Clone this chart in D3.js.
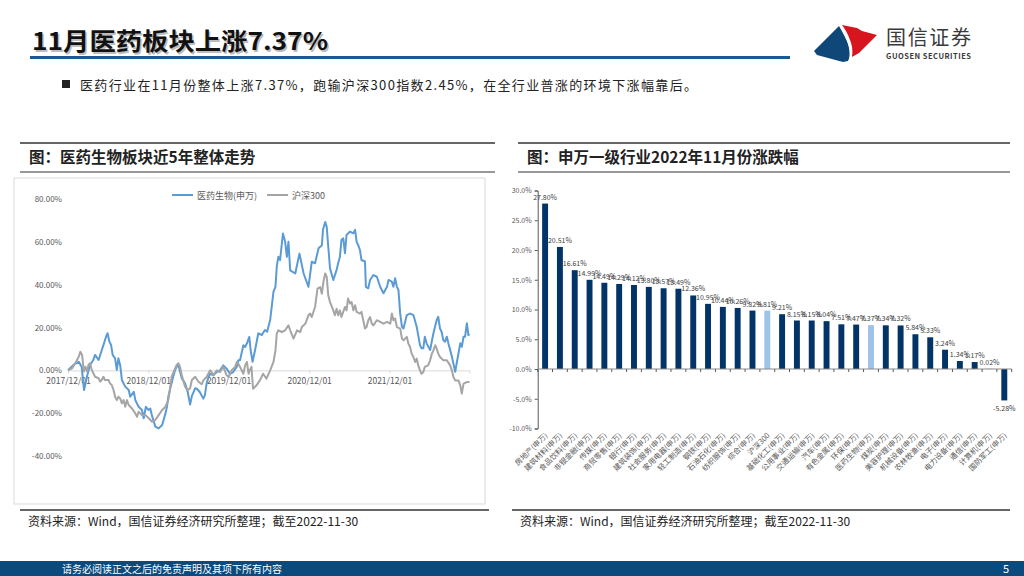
<!DOCTYPE html>
<html>
<head>
<meta charset="utf-8">
<script src="https://cdn.jsdelivr.net/npm/d3@7"></script>
<style>
  body { margin: 0; background: #fff; }
  svg { display: block; }
  text { font-family: "Noto Sans CJK SC", "Liberation Sans", sans-serif; }
</style>
</head>
<body>
<script>
// ---- data ----
var pageTitle = "11月医药板块上涨7.37%";
var bulletText = "医药行业在11月份整体上涨7.37%，跑输沪深300指数2.45%，在全行业普涨的环境下涨幅靠后。";
var leftTitle = "图：医药生物板块近5年整体走势";
var rightTitle = "图：申万一级行业2022年11月份涨跌幅";
var sourceText = "资料来源：Wind，国信证券经济研究所整理；截至2022-11-30";
var footerText = "请务必阅读正文之后的免责声明及其项下所有内容";

var lineNames = ["医药生物(申万)", "沪深300"];
var lineTicks = ["2017-12-01", "2018-12-01", "2019-12-01", "2020-12-01", "2021-12-01"];
var lineYTicks = [-40, -20, 0, 20, 40, 60, 80];

var medSeries = [
["2017-12-01",0],["2017-12-26",2.5],["2018-01-19",4.0],["2018-02-01",1.7],["2018-02-12",-9.2],["2018-02-27",-2.2],
["2018-03-11",2.5],["2018-03-26",4.8],["2018-04-03",7.2],["2018-04-19",4.8],["2018-05-01",8.7],["2018-05-11",11.8],
["2018-05-23",15.7],["2018-05-30",17.3],["2018-06-07",13.4],["2018-06-15",11.8],["2018-06-22",7.2],["2018-07-03",5.6],
["2018-07-11",0.2],["2018-07-18",5.6],["2018-07-26",2.5],["2018-08-03",-4.5],["2018-08-18",-7.6],["2018-09-03",-9.2],
["2018-09-10",-12.3],["2018-09-26",-10],["2018-10-03",-13.9],["2018-10-18",-17],["2018-11-02",-18.5],["2018-11-10",-22.4],
["2018-11-20",-17],["2018-12-01",-18.5],["2018-12-10",-17.8],["2018-12-17",-20.9],["2019-01-02",-26.3],["2019-01-17",-27.1],
["2019-02-02",-25.5],["2019-02-17",-20.1],["2019-02-24",-17],["2019-03-02",-12.3],["2019-03-09",-9.2],["2019-03-24",-3],
["2019-04-02",0.2],["2019-04-09",1.7],["2019-04-17",2.5],["2019-04-24",-0.6],["2019-05-02",-3.7],["2019-05-17",-6.1],
["2019-05-29",-10],["2019-06-09",-16],["2019-06-17",-12],["2019-07-02",-8.4],["2019-07-10",-8.6],["2019-07-23",-10.1],
["2019-08-08",-13.2],["2019-08-15",-11.7],["2019-08-23",-6.2],["2019-09-01",-3.1],["2019-09-08",-1.6],["2019-09-23",-2.3],
["2019-10-08",-0.8],["2019-10-23",0],["2019-11-07",2.3],["2019-11-22",0.8],["2019-12-07",-1.6],["2019-12-22",-0.8],
["2020-01-07",1.6],["2020-01-14",4.7],["2020-01-22",4.7],["2020-02-06",11.7],["2020-02-14",10.9],["2020-02-22",12.5],
["2020-03-04",15.6],["2020-03-10",9.5],["2020-03-19",4],["2020-04-01",10.3],["2020-04-14",17.3],["2020-04-30",16.5],
["2020-05-14",18.8],["2020-05-24",18],["2020-06-07",23.5],["2020-06-22",36.7],["2020-07-01",39],["2020-07-07",48.4],
["2020-07-14",53],["2020-07-22",51.5],["2020-08-04",63.9],["2020-08-14",60],["2020-08-22",53],["2020-08-29",60],
["2020-09-06",46.7],["2020-09-29",45.2],["2020-10-18",54.5],["2020-11-06",45.2],["2020-11-28",39],["2020-12-13",50.7],
["2020-12-28",50],["2021-01-13",57],["2021-01-28",58.4],["2021-02-02",65.6],["2021-02-12",69.3],["2021-02-19",67],
["2021-02-26",57.8],["2021-03-06",47.6],["2021-03-21",42.2],["2021-04-05",46.9],["2021-04-12",50],["2021-04-20",53],
["2021-04-27",60.9],["2021-05-05",61.7],["2021-05-13",54.7],["2021-05-20",63.2],["2021-06-05",64.8],["2021-06-20",64],
["2021-06-28",65.6],["2021-07-05",60],["2021-07-12",58.5],["2021-07-20",56.2],["2021-07-27",51.5],["2021-08-12",50.8],
["2021-08-16",39],["2021-08-27",38.3],["2021-09-04",42.2],["2021-09-19",44.5],["2021-10-05",43.7],["2021-10-20",39],
["2021-11-04",36],["2021-11-20",39],["2021-11-27",42.2],["2021-12-12",41.4],["2021-12-19",39],["2021-12-27",43],
["2022-01-04",39],["2022-01-11",37.5],["2022-01-19",26.5],["2022-01-27",20.3],["2022-02-03",19.5],["2022-02-18",25.8],
["2022-03-05",26.5],["2022-03-20",25.8],["2022-04-04",20.3],["2022-04-19",11.8],["2022-04-26",10.3],["2022-05-04",10.3],
["2022-05-11",15.7],["2022-05-19",12.6],["2022-06-04",9.5],["2022-06-19",17.3],["2022-07-04",23.5],["2022-07-11",25],
["2022-07-19",19.5],["2022-07-26",18],["2022-08-03",14.1],["2022-08-11",13.4],["2022-08-19",15.7],["2022-08-26",12.6],
["2022-09-11",6.4],["2022-09-26",-0.7],["2022-10-04",4],["2022-10-19",12.6],["2022-10-26",11],["2022-11-03",15.7],
["2022-11-10",15.7],["2022-11-18",22],["2022-11-25",16.5],["2022-11-30",17]
];

var hsSeries = [
["2017-12-01",0],["2017-12-19",0.9],["2018-01-03",3.3],["2018-01-19",6.4],["2018-01-26",8.7],["2018-02-03",7.2],
["2018-02-11",-0.6],["2018-02-18",1.7],["2018-02-26",-0.6],["2018-03-04",2.5],["2018-03-11",3.3],["2018-03-19",0.2],
["2018-04-03",-3],["2018-04-19",-3.7],["2018-04-26",-5.3],["2018-05-03",-4.5],["2018-05-11",-3],["2018-05-18",-4.5],
["2018-06-03",-4.5],["2018-06-10",-6.1],["2018-06-18",-6.9],["2018-06-26",-9.2],["2018-07-03",-12.3],["2018-07-11",-13.9],
["2018-07-18",-12.3],["2018-07-26",-13.1],["2018-08-03",-15.4],["2018-08-11",-13.9],["2018-08-18",-17],["2018-08-26",-13.9],
["2018-09-03",-16.2],["2018-09-18",-17.8],["2018-10-03",-20.1],["2018-10-11",-21.7],["2018-10-18",-19.3],["2018-11-02",-20.9],
["2018-11-18",-20.9],["2018-12-03",-22.4],["2018-12-18",-24],["2019-01-02",-23.2],["2019-01-17",-20.9],["2019-02-02",-18.5],
["2019-02-17",-17],["2019-03-02",-13.9],["2019-03-09",-9.2],["2019-03-17",-3],["2019-04-02",0.9],["2019-04-09",2.5],
["2019-04-17",3.3],["2019-04-24",1.7],["2019-05-02",-2.2],["2019-05-17",-7.6],["2019-05-29",-9.2],["2019-06-09",-8.4],
["2019-06-17",-4.5],["2019-07-02",-3],["2019-07-17",-5.3],["2019-08-01",-6.5],["2019-08-08",-4.7],["2019-08-23",-3.1],
["2019-09-08",0],["2019-09-15",-0.8],["2019-09-23",-2.3],["2019-10-08",0],["2019-10-23",-0.8],["2019-11-07",1.6],
["2019-11-22",-2.3],["2019-12-01",-3.1],["2019-12-15",0],["2019-12-31",1.6],["2020-01-07",3.9],["2020-01-14",3.1],
["2020-01-22",1.6],["2020-02-06",-1.6],["2020-02-14",2.3],["2020-02-22",3.9],["2020-03-01",-1.6],["2020-03-06",0],
["2020-03-14",1.6],["2020-03-21",-8.6],["2020-04-06",-7],["2020-04-21",-4.7],["2020-05-06",-1.6],["2020-05-21",-3.9],
["2020-06-07",0],["2020-06-22",3.9],["2020-07-01",9.3],["2020-07-07",17.1],["2020-07-14",18.7],["2020-07-29",17.9],
["2020-08-14",18.7],["2020-08-29",21],["2020-09-06",18.7],["2020-09-21",14.8],["2020-10-07",18.7],["2020-10-22",17.9],
["2020-10-29",20.2],["2020-11-14",21.8],["2020-11-28",25.7],["2020-12-06",26.5],["2020-12-13",24.9],["2020-12-28",29.6],
["2021-01-08",38.2],["2021-01-20",38.9],["2021-01-28",35.8],["2021-02-04",41.3],["2021-02-12",45.2],["2021-02-19",43.6],
["2021-02-26",35],["2021-03-06",31.9],["2021-03-21",28],["2021-03-28",25.7],["2021-04-05",28.8],["2021-04-12",25.7],
["2021-04-20",28],["2021-04-27",24.9],["2021-05-05",27.3],["2021-05-13",29.6],["2021-05-20",28],["2021-05-27",33.5],
["2021-06-05",31.2],["2021-06-12",31.9],["2021-06-20",28],["2021-06-28",30.4],["2021-07-05",27.3],["2021-07-20",26.5],
["2021-07-27",27.3],["2021-08-04",23.4],["2021-08-12",19.5],["2021-08-19",20.2],["2021-08-27",23.4],["2021-09-04",24.9],
["2021-09-12",21.8],["2021-09-19",21],["2021-10-05",23.4],["2021-10-20",22.6],["2021-11-04",21.8],["2021-11-20",22.6],
["2021-12-05",21.8],["2021-12-12",26.5],["2021-12-19",23.4],["2021-12-27",24.2],["2022-01-04",20.2],["2022-01-19",19.5],
["2022-01-27",14.8],["2022-02-03",14],["2022-02-18",15.6],["2022-02-25",12.5],["2022-03-05",10.9],["2022-03-12",7.8],
["2022-03-20",6.2],["2022-03-28",3.9],["2022-04-04",5.5],["2022-04-11",2.3],["2022-04-19",0],["2022-04-26",-1.6],
["2022-05-04",-0.8],["2022-05-11",1.6],["2022-05-26",2.3],["2022-06-04",4.7],["2022-06-12",7.8],["2022-06-19",9.3],
["2022-06-27",11.7],["2022-07-04",10.1],["2022-07-11",7.8],["2022-07-19",6.2],["2022-08-03",4.7],["2022-08-19",4.7],
["2022-09-03",2.3],["2022-09-11",0],["2022-09-18",-3.1],["2022-09-26",-4.7],["2022-10-11",-4.7],["2022-10-19",-7],
["2022-10-26",-10.9],["2022-11-03",-6.2],["2022-11-18",-5.5],["2022-11-25",-5.5],["2022-11-30",-5.5]
];

var industries = ["房地产(申万)","建筑材料(申万)","食品饮料(申万)","非银金融(申万)","传媒(申万)","商贸零售(申万)",
  "银行(申万)","建筑装饰(申万)","社会服务(申万)","家用电器(申万)","轻工制造(申万)","钢铁(申万)","石油石化(申万)",
  "纺织服饰(申万)","综合(申万)","沪深300","基础化工(申万)","公用事业(申万)","交通运输(申万)","汽车(申万)",
  "有色金属(申万)","环保(申万)","医药生物(申万)","煤炭(申万)","美容护理(申万)","机械设备(申万)","农林牧渔(申万)",
  "电子(申万)","电力设备(申万)","通信(申万)","计算机(申万)","国防军工(申万)"];
var changes = [27.80,20.51,16.61,14.99,14.49,14.29,14.12,13.80,13.57,13.49,12.36,10.95,10.44,10.26,9.82,9.81,
  9.21,8.15,8.15,8.04,7.51,7.47,7.37,7.34,7.32,5.84,5.33,3.24,1.34,1.17,0.02,-5.28];
var highlighted = ["沪深300","医药生物(申万)"];
var barYTicks = [-10,-5,0,5,10,15,20,25,30];

// ---- page ----
var svg = d3.select("body").append("svg").attr("width", 1024).attr("height", 576);

// title with shadow
svg.append("text").attr("x", 33.5).attr("y", 51.5).attr("font-size", 24).attr("font-weight", "bold")
  .attr("fill", "#bdbdbd").attr("textLength", 296).attr("lengthAdjust", "spacingAndGlyphs").text(pageTitle);
svg.append("text").attr("x", 32).attr("y", 50).attr("font-size", 24).attr("font-weight", "bold")
  .attr("fill", "#111").attr("textLength", 296).attr("lengthAdjust", "spacingAndGlyphs").text(pageTitle);
svg.append("rect").attr("x", 30).attr("y", 56).attr("width", 760).attr("height", 3).attr("fill", "#1b5a94");

// logo
var logo = svg.append("g");
logo.append("path").attr("d", "M814,51 L839,26 C843,33 847,40 849,47 C851,52 850,57 848,61 L843,62 L817,55 Z").attr("fill", "#0f4778");
logo.append("path").attr("d", "M842,25 L857,28 L862,31 L877,35 L859,53 L852,57 C853,50 852,45 850,40 C848,34 845,29 842,25 Z").attr("fill", "#d7151f");
logo.append("path").attr("d", "M840,25 C846,35 852,45 850,62").attr("fill", "none").attr("stroke", "#fff").attr("stroke-width", 1.5);
svg.append("text").attr("x", 886).attr("y", 45).attr("font-size", 20).attr("fill", "#3a3a3a")
  .attr("textLength", 85).text("国信证券");
svg.append("text").attr("x", 886).attr("y", 58.5).attr("font-size", 7.5).attr("font-weight", "bold").attr("fill", "#3a3a3a")
  .attr("font-family", "Liberation Sans").attr("textLength", 85).text("GUOSEN SECURITIES");

// bullet
svg.append("rect").attr("x", 62).attr("y", 80).attr("width", 8).attr("height", 8).attr("fill", "#222");
svg.append("text").attr("x", 80).attr("y", 89.5).attr("font-size", 13).attr("fill", "#222")
  .attr("textLength", 617).text(bulletText);

// section headers
function sectionHeader(x0, x1, title) {
  svg.append("line").attr("x1", x0).attr("x2", x1).attr("y1", 143).attr("y2", 143).attr("stroke", "#333").attr("stroke-width", 1.5);
  svg.append("line").attr("x1", x0).attr("x2", x1).attr("y1", 172).attr("y2", 172).attr("stroke", "#333").attr("stroke-width", 1.2);
  svg.append("text").attr("x", x0 + 9).attr("y", 163).attr("font-size", 15.5).attr("font-weight", "bold").attr("fill", "#222").text(title);
}
sectionHeader(20, 495, leftTitle);
sectionHeader(518, 1010, rightTitle);

// source lines
function sourceLine(x0, x1) {
  svg.append("line").attr("x1", x0).attr("x2", x1).attr("y1", 510).attr("y2", 510).attr("stroke", "#333").attr("stroke-width", 1.5);
  svg.append("text").attr("x", x0 + 8).attr("y", 526).attr("font-size", 12).attr("fill", "#222").text(sourceText);
}
sourceLine(20, 489);
sourceLine(512, 1010);

// footer
svg.append("rect").attr("x", 0).attr("y", 561).attr("width", 1024).attr("height", 15).attr("fill", "#0b4a7d");
svg.append("text").attr("x", 62).attr("y", 572.5).attr("font-size", 10).attr("fill", "#fff").text(footerText);
svg.append("text").attr("x", 1003).attr("y", 573).attr("font-size", 11).attr("fill", "#fff").text("5");

// ---- left line chart ----
svg.append("rect").attr("x", 14).attr("y", 178).attr("width", 471).attr("height", 326)
  .attr("fill", "#fff").attr("stroke", "#d9d9d9").attr("stroke-width", 1);

var parse = d3.timeParse("%Y-%m-%d");
var xT = d3.scaleTime().domain([parse("2017-12-01"), parse("2022-11-30")]).range([68, 469.5]);
var yL = d3.scaleLinear().domain([-40, 80]).range([456, 199]);

var lg = svg.append("g");
lg.selectAll("text.ytick").data(lineYTicks).enter().append("text")
  .attr("x", 62).attr("y", function(d) { return yL(d) + 3; })
  .attr("text-anchor", "end").attr("font-size", 8).attr("fill", "#595959")
  .attr("font-family", "Liberation Sans")
  .text(function(d) { return d.toFixed(2) + "%"; });

var xAxis = d3.axisBottom(xT).tickValues(lineTicks.map(parse)).tickSize(3)
  .tickFormat(d3.timeFormat("%Y/%m/%d"));
var xg = lg.append("g").attr("transform", "translate(0," + yL(0) + ")").call(xAxis);
xg.select(".domain").attr("stroke", "#d9d9d9");
xg.selectAll(".tick line").attr("stroke", "#d9d9d9");
xg.selectAll(".tick text").attr("fill", "#595959").attr("font-size", 8.5).attr("dy", "0.9em")
  .attr("font-family", "Liberation Sans");

var line = d3.line().x(function(d) { return xT(parse(d[0])); }).y(function(d) { return yL(d[1]); });
var lineColors = ["#5b9bd5", "#a5a5a5"];
[medSeries, hsSeries].forEach(function(s, i) {
  lg.append("path").datum(s).attr("d", line).attr("fill", "none")
    .attr("stroke", lineColors[i]).attr("stroke-width", 2).attr("stroke-linejoin", "round");
});

// legend
var legendX = [172, 267];
lineNames.forEach(function(n, i) {
  lg.append("line").attr("x1", legendX[i]).attr("x2", legendX[i] + 21).attr("y1", 195).attr("y2", 195)
    .attr("stroke", lineColors[i]).attr("stroke-width", 2);
  lg.append("text").attr("x", legendX[i] + 25).attr("y", 198.5).attr("font-size", 9).attr("fill", "#595959").text(n);
});

// ---- right bar chart ----
var xB = d3.scaleBand().domain(industries).range([537.7, 1011.7]).paddingInner(0.6).paddingOuter(0.3);
var yB = d3.scaleLinear().domain([-10, 30]).range([428.5, 190.5]);
var bg = svg.append("g");

var yAxisB = d3.axisLeft(yB).tickValues(barYTicks).tickSize(3)
  .tickFormat(function(d) { return d.toFixed(1) + "%"; });
var yg = bg.append("g").attr("transform", "translate(537.7,0)").call(yAxisB);
yg.select(".domain").attr("stroke", "#595959");
yg.selectAll(".tick line").attr("stroke", "#595959");
yg.selectAll(".tick text").attr("fill", "#595959").attr("font-size", 7).attr("font-family", "Liberation Sans");

bg.selectAll("rect.bar").data(industries).enter().append("rect")
  .attr("x", function(d) { return xB(d); })
  .attr("width", xB.bandwidth())
  .attr("y", function(d, i) { return yB(Math.max(0, changes[i])); })
  .attr("height", function(d, i) { return Math.abs(yB(changes[i]) - yB(0)); })
  .attr("fill", function(d) { return highlighted.indexOf(d) >= 0 ? "#9dc3e6" : "#023468"; });

// zero axis with category ticks
var step = xB.step();
bg.append("line").attr("x1", 537.7).attr("x2", 1011.7).attr("y1", yB(0)).attr("y2", yB(0))
  .attr("stroke", "#8c8c8c").attr("stroke-width", 1.2);
bg.selectAll("line.ctick").data(d3.range(industries.length + 1)).enter().append("line")
  .attr("x1", function(i) { return 537.7 + i * step; }).attr("x2", function(i) { return 537.7 + i * step; })
  .attr("y1", yB(0)).attr("y2", yB(0) + 3).attr("stroke", "#595959");

bg.selectAll("text.vlab").data(industries).enter().append("text")
  .attr("x", function(d) { return xB(d) + xB.bandwidth() / 2; })
  .attr("y", function(d, i) { return changes[i] >= 0 ? yB(changes[i]) - 4 : yB(changes[i]) + 11; })
  .attr("text-anchor", "middle").attr("font-size", 7).attr("fill", "#404040")
  .attr("font-family", "Liberation Sans")
  .text(function(d, i) { return changes[i].toFixed(2) + "%"; });

bg.selectAll("text.clab").data(industries).enter().append("text")
  .attr("transform", function(d) { return "translate(" + (xB(d) + xB.bandwidth() / 2 + 3) + ",436) rotate(-45)"; })
  .attr("text-anchor", "end").attr("font-size", 7.5).attr("fill", "#595959")
  .text(function(d) { return d; });
</script>
</body>
</html>
